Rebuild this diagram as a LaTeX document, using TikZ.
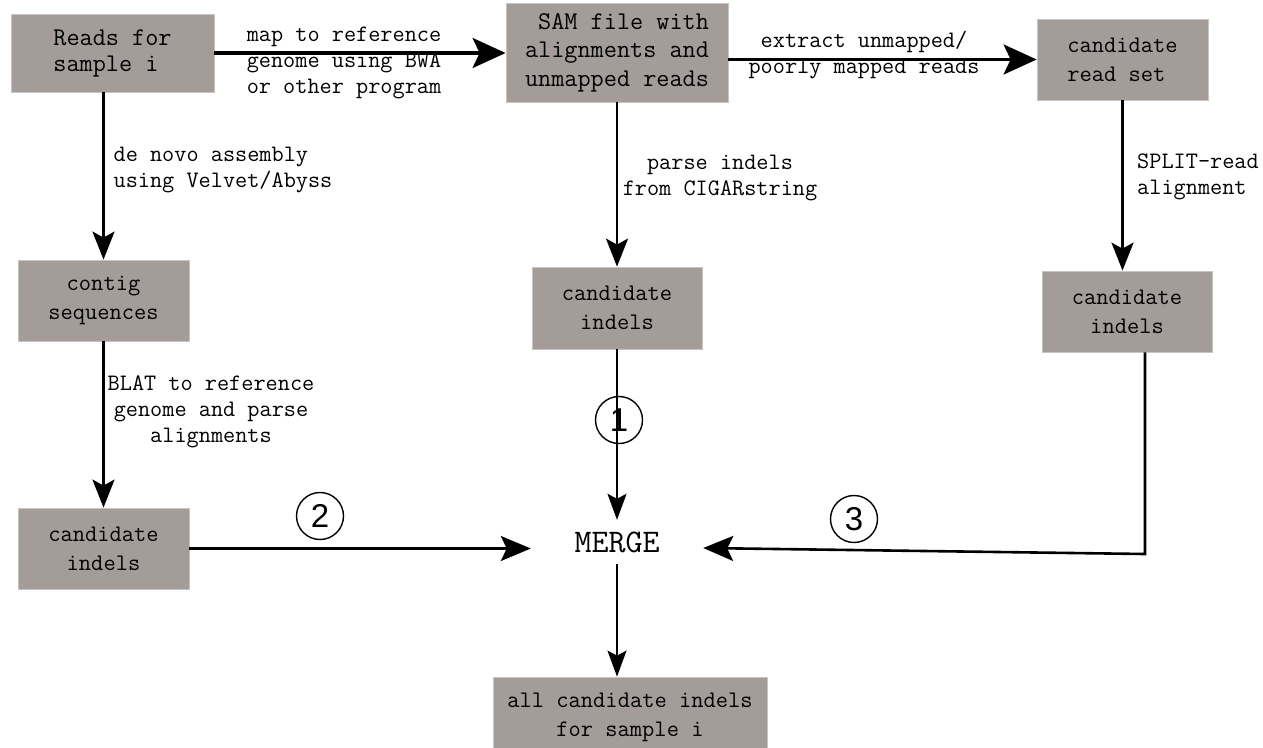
\documentclass[tikz,border=0pt]{standalone}
\usepackage{fontspec}
\newfontfamily\digitfont{Liberation Sans}
\usetikzlibrary{arrows.meta,calc}
\definecolor{boxgray}{RGB}{163,156,153}
\begin{document}
\begin{tikzpicture}[x=1pt,y=-1pt,
  box/.style={fill=boxgray, draw=boxgray!60!white, line width=0.8pt, inner sep=0pt, align=center, font=\ttfamily\fontsize{23.8}{29}\selectfont},
  lbl/.style={inner sep=0pt, font=\ttfamily\fontsize{23.6}{26}\selectfont},
  bigarrow/.style={line width=3.2pt, -{Stealth[length=33pt,width=30pt,inset=7pt]}},
  varrow/.style={line width=2.6pt, -{Stealth[length=28pt,width=22pt,inset=6pt]}},
  marrow/.style={line width=2.6pt, line join=miter, -{Stealth[length=30pt,width=25pt,inset=6pt]}},
  sarrow/.style={line width=2pt, -{Stealth[length=26pt,width=19pt,inset=5pt]}},
  numc/.style={circle, draw, line width=1.4pt, minimum size=47pt, inner sep=0pt, font=\digitfont\fontsize{33}{33}\selectfont},
]
\useasboundingbox (0,0) rectangle (1263,747);
\fill[white] (0,0) rectangle (1263,747);
\clip (0,0) rectangle (1263,747);

% boxes
\node[box, minimum width=203pt, minimum height=78pt, align=left, font=\ttfamily\fontsize{25.5}{26}\selectfont] (reads) at (112.5,53) {Reads for\\sample i};
\node[box, minimum width=222pt, minimum height=99pt, align=right, font=\ttfamily\fontsize{25.5}{28.5}\selectfont] (sam) at (617,52.5) {SAM file with\\alignments and\\unmapped reads};
\node[box, minimum width=171pt, minimum height=81pt, align=left] (rset) at (1122.5,59.5) {candidate\\read set};
\node[box, minimum width=171pt, minimum height=81pt] (contig) at (103.5,300.5) {contig\\sequences};
\node[box, minimum width=170pt, minimum height=82pt] (mcand) at (617,308) {candidate\\indels};
\node[box, minimum width=170pt, minimum height=81pt] (rcand) at (1127,311.5) {candidate\\indels};
\node[box, minimum width=171pt, minimum height=81pt] (lcand) at (103.5,548.5) {candidate\\indels};
\node[box, minimum width=274pt, minimum height=80pt] (final) at (630,717) {all candidate indels\\for sample i};

\node[inner sep=0pt, minimum width=172pt, minimum height=44pt, font=\ttfamily\fontsize{33}{33}\selectfont] (merge) at (617,542) {MERGE};

% labels
\node[lbl, align=left] (l1) at (344,63) {map to reference\\genome using BWA\\or other program};
\node[lbl, align=center] (l2) at (864,55) {extract unmapped/\\poorly mapped reads};
\node[lbl, align=left] (l3) at (223,170) {de novo assembly\\using Velvet/Abyss};
\node[lbl, align=center] (l4) at (720,178) {parse indels\\from CIGARstring};
\node[lbl, align=left] (l5) at (1198,177) {SPLIT-read\\alignment};
\node[lbl, align=center] (l6) at (211,412) {BLAT to reference\\genome and parse\\alignments};

% arrows
\draw[bigarrow] (reads.east) -- (reads.east -| sam.west);
\draw[bigarrow] (rset.west -| sam.east) -- (rset.west);
\draw[varrow] (reads.south -| contig.north) -- (contig.north);
\draw[varrow] (sam.south) -- (mcand.north);
\draw[varrow] (rset.south) -- (rset.south |- rcand.north);
\draw[varrow] (contig.south) -- (lcand.north);
\draw[sarrow] (mcand.south) -- (mcand.south |- merge.north);
\draw[marrow] (lcand.east) -- (lcand.east -| merge.west);
\coordinate (c3) at (1145,554);
\draw[marrow] (c3 |- rcand.south) -- (c3) -- ([yshift=-6pt]merge.east);
\draw[sarrow] (merge.south) -- (merge.south |- final.north);

% circled numbers
\node[numc] (n1) at (619,420) {1};
\node[numc] (n2) at (320,516) {2};
\node[numc] (n3) at (854,519) {3};
\end{tikzpicture}
\end{document}
